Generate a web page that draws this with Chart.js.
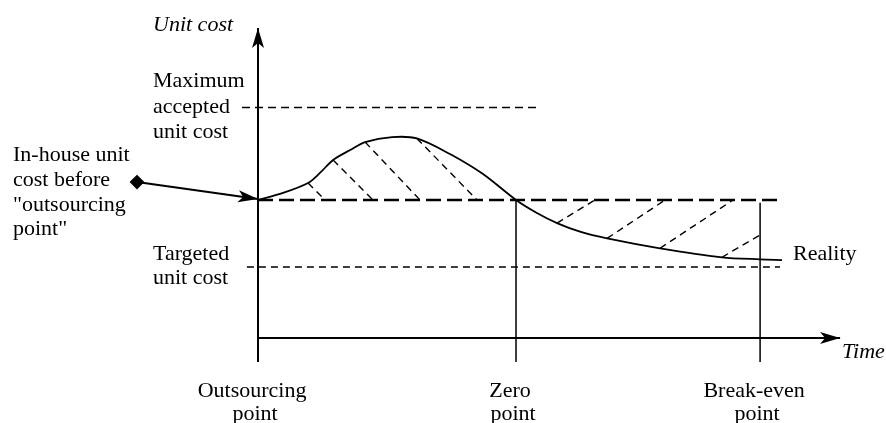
<!DOCTYPE html>
<html>
<head>
<meta charset="utf-8">
<script src="https://cdn.jsdelivr.net/npm/chart.js@4/dist/chart.umd.min.js"></script>
<style>
  body { margin: 0; background: #fff; }
  #wrap { width: 886px; height: 423px; }
</style>
</head>
<body>
<div id="wrap"><canvas id="costChart" width="886" height="423"></canvas></div>
<script>
// Values (time in abstract units, cost in abstract units)
const realityTime = [0, 0.97, 1.94, 2.40, 2.91, 3.57, 4.15, 5.2, 6.16, 7.44, 8.72, 10,
  10.81, 11.59, 12.48, 13.53, 15.58, 17.98, 19.46, 20.31];
const realityCost = [100, 105.1, 112.3, 119.6, 129, 136.2, 142, 145.6, 144.6, 133.3, 118.8, 100,
  90.6, 83.3, 77.1, 72.2, 65, 58.5, 57, 56.5];

const maxCost = 167;
const inHouseCost = 100;
const targetCost = 51.4;

const milestoneTime = [0, 10, 19.46];
const milestoneLabels = [["Outsourcing", "point"], ["Zero", "point"], ["Break-even", "point"]];

// hatch segments: [time, cost] start and end
const hatchFrom = [[1.94, 112.3], [2.91, 129], [4.15, 142], [6.16, 144.6],
  [11.59, 83.3], [13.53, 72.2], [15.58, 65], [17.98, 58.5]];
const hatchTo = [[2.60, 100], [4.46, 100], [6.28, 100], [8.49, 100],
  [13.06, 100], [15.78, 100], [18.41, 100], [19.53, 75.4]];

const timeAxisEnd = 22.56;
const costAxisTop = 224.6;
const tickBottom = -17.4;
const refLineStart = -0.62;
const refLineEnd = 20.23;
const pointerFrom = [-4.69, 113];
const pointerTo = [0, 100.7];

const serif = '"Liberation Serif", "Times New Roman", serif';

function seg(x1, y1, x2, y2) {
  return [{ x: x1, y: y1 }, { x: x2, y: y2 }];
}

const datasets = [];

// axes
datasets.push({ data: seg(0, tickBottom, 0, costAxisTop), borderWidth: 2, arrowEnd: true });
datasets.push({ data: seg(0, 0, timeAxisEnd, 0), borderWidth: 2, arrowEnd: true });

// milestone verticals
datasets.push({ data: seg(milestoneTime[1], inHouseCost, milestoneTime[1], tickBottom), borderWidth: 1.5 });
datasets.push({ data: seg(milestoneTime[2], inHouseCost - 2, milestoneTime[2], tickBottom), borderWidth: 1.5 });

// reference levels
datasets.push({ data: seg(refLineStart, maxCost, 10.81, maxCost), borderWidth: 1.5, borderDash: [8, 5] });
datasets.push({ data: seg(0, inHouseCost, refLineEnd, inHouseCost), borderWidth: 2.5, borderDash: [15, 6] });
datasets.push({ data: seg(-0.43, targetCost, refLineEnd, targetCost), borderWidth: 1.5, borderDash: [7, 5] });

// hatching
hatchFrom.forEach((p, i) => {
  datasets.push({ data: seg(p[0], p[1], hatchTo[i][0], hatchTo[i][1]), borderWidth: 1.4, borderDash: [7, 5] });
});

// reality curve
datasets.push({
  data: realityTime.map((t, i) => ({ x: t, y: realityCost[i] })),
  borderWidth: 1.8,
  tension: 0.3
});

// pointer from label to start point
datasets.push({
  data: seg(pointerFrom[0], pointerFrom[1], pointerTo[0], pointerTo[1]),
  borderWidth: 2,
  arrowEnd: true,
  pointRadius: [6, 0],
  pointStyle: "rectRot",
  pointBackgroundColor: "#000",
  pointBorderColor: "#000"
});

datasets.forEach((d) => {
  d.showLine = true;
  d.borderColor = "#000";
  d.borderCapStyle = "butt";
  if (d.pointRadius === undefined) d.pointRadius = 0;
  d.pointHoverRadius = 0;
});

const arrowPlugin = {
  id: "arrows",
  afterDatasetsDraw(chart) {
    const ctx = chart.ctx;
    chart.data.datasets.forEach((d, i) => {
      if (!d.arrowEnd) return;
      const pts = chart.getDatasetMeta(i).data;
      const a = pts[pts.length - 2], b = pts[pts.length - 1];
      const ang = Math.atan2(b.y - a.y, b.x - a.x);
      const len = 20, half = 6, notch = 5;
      ctx.save();
      ctx.translate(b.x, b.y);
      ctx.rotate(ang);
      ctx.beginPath();
      ctx.moveTo(0, 0);
      ctx.lineTo(-len, -half);
      ctx.lineTo(-len + notch, 0);
      ctx.lineTo(-len, half);
      ctx.closePath();
      ctx.fillStyle = "#000";
      ctx.fill();
      ctx.restore();
    });
  }
};

const labelPlugin = {
  id: "labels",
  afterDraw(chart) {
    const ctx = chart.ctx;
    const xs = chart.scales.x;
    ctx.save();
    ctx.fillStyle = "#000";
    ctx.textBaseline = "middle";
    const put = (txt, x, y, align, italic) => {
      ctx.font = (italic ? "italic " : "") + "22px " + serif;
      ctx.textAlign = align || "left";
      ctx.fillText(txt, x, y);
    };
    put("Unit cost", 153, 25, "left", true);
    put("Maximum", 153, 81);
    put("accepted", 153, 107);
    put("unit cost", 153, 132);
    put("In-house unit", 13, 155);
    put("cost before", 13, 180);
    put("\"outsourcing", 13, 205);
    put("point\"", 13, 229);
    put("Targeted", 153, 254);
    put("unit cost", 153, 278);
    put("Reality", 793, 254);
    put("Time", 842, 352, "left", true);
    milestoneLabels.forEach((lines, i) => {
      const px = xs.getPixelForValue(milestoneTime[i]);
      lines.forEach((ln, j) => put(ln, px - 6 + j * 3, 391 + j * 23, "center"));
    });
    ctx.restore();
  }
};

new Chart(document.getElementById("costChart"), {
  type: "scatter",
  data: { datasets },
  options: {
    responsive: false,
    animation: false,
    events: [],
    layout: { padding: 0, autoPadding: false },
    plugins: { legend: { display: false }, tooltip: { enabled: false } },
    scales: {
      x: { type: "linear", display: false, min: -10, max: 24.34 },
      y: { type: "linear", display: false, min: -61.59, max: 244.93 }
    }
  },
  plugins: [arrowPlugin, labelPlugin]
});
</script>
</body>
</html>
